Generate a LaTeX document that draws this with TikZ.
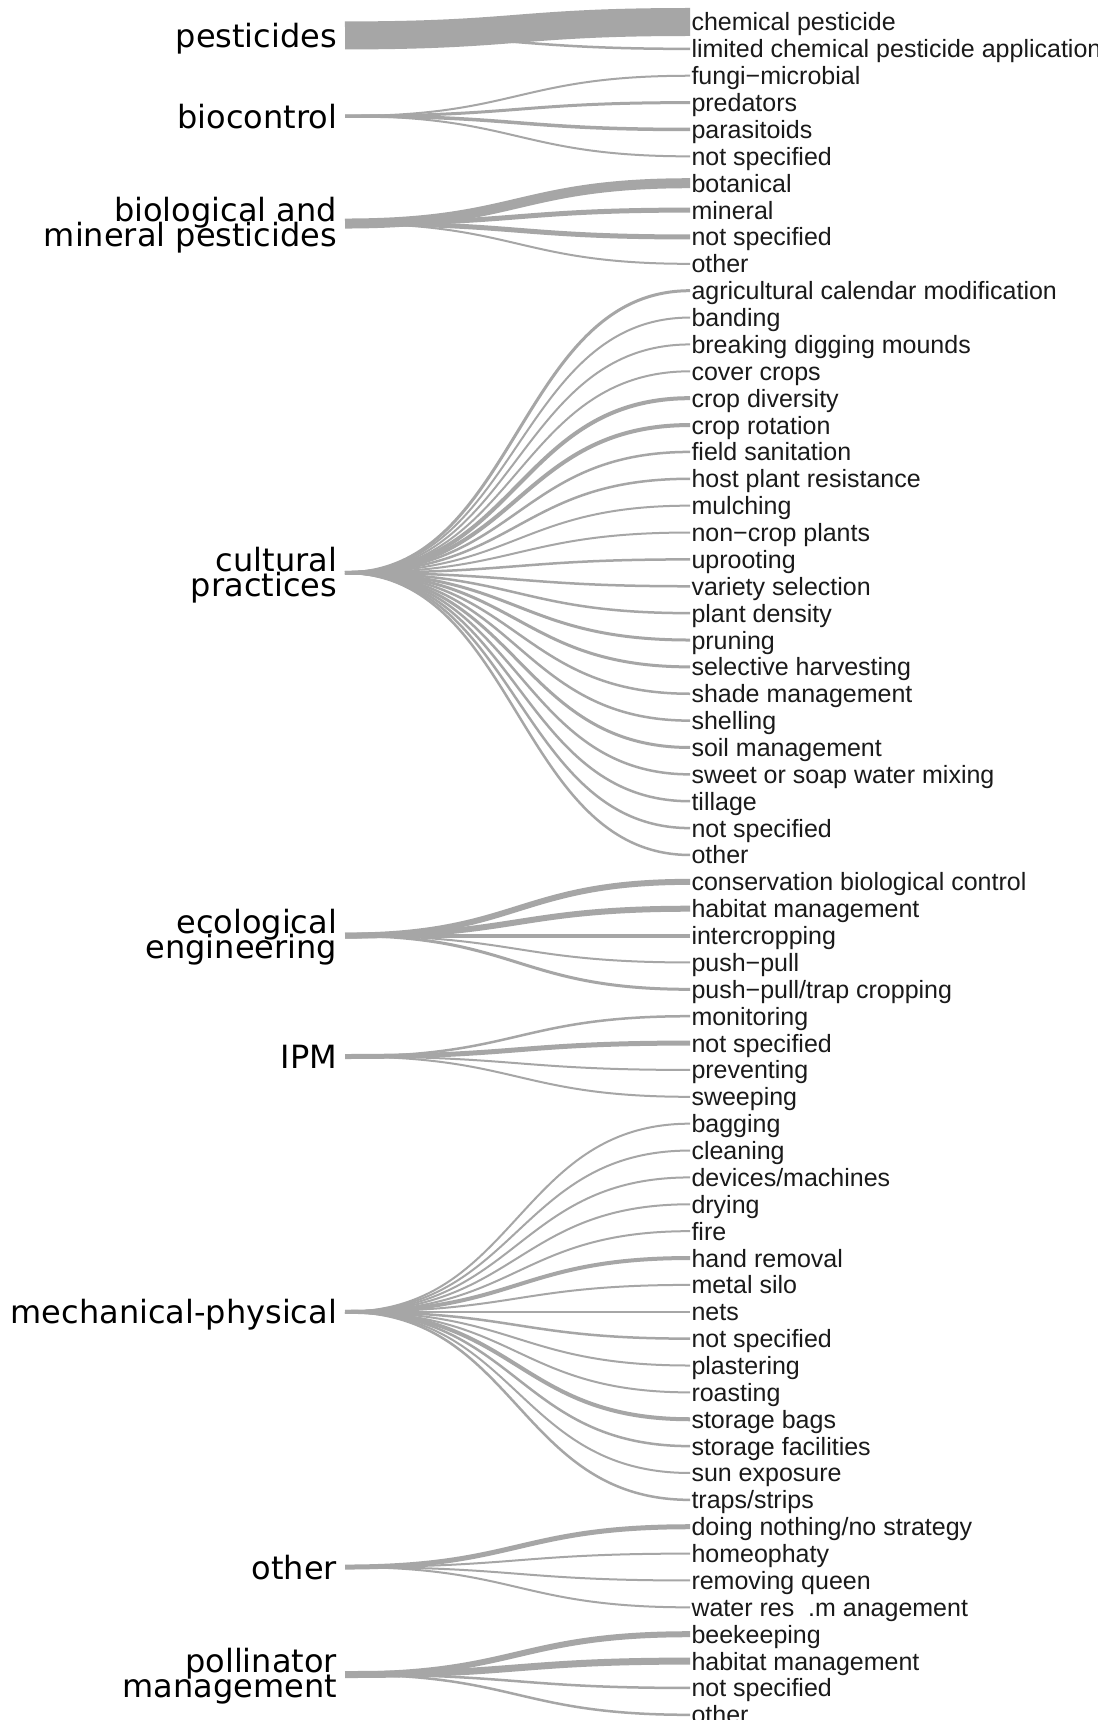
\documentclass[tikz,border=0pt]{standalone}
\usepackage{fontspec}
\setmainfont{Liberation Sans}
\newfontfamily\leftfont{DejaVu Sans}
\definecolor{linkgray}{RGB}{166,166,166}
\definecolor{txt}{RGB}{26,26,26}
\newcommand\tightlines{\lineskiplimit=-100pt\relax}
\tikzset{
  link/.style={draw=linkgray, line cap=butt},
  leaf/.style={anchor=west, inner xsep=1.5pt, inner ysep=0pt, outer sep=0pt,
    font=\fontsize{25}{26}\selectfont, text=txt, text height=18pt, text depth=0pt},
  grp/.style={anchor=east, inner sep=0pt, outer sep=0pt,
    font=\leftfont\fontsize{32}{32}\selectfont, text=black, text height=24pt, text depth=0pt},
  grptwo/.style={anchor=east, inner sep=0pt, outer sep=0pt, align=right, yshift=-2pt,
    font=\leftfont\fontsize{32}{25}\selectfont\tightlines, text=black},
}
\newcommand\rowy[1]{-(22+26.87*#1)}
\newcommand\leaf[2]{\node[leaf] (t#1) at (690,{\rowy{#1}}) {#2};}
\newcommand\lk[3]{\draw[link, line width=#3pt] (#1) .. controls (mx |- #1) and (mx |- t#2.west) .. (t#2.west);}
\newcommand\src[2]{\coordinate (#1) at (345,{\rowy{#2}});}
\begin{document}
\begin{tikzpicture}[x=1pt,y=1pt]
\useasboundingbox (0,0) rectangle (1097,-1720);
\fill[white] (0,0) rectangle (1097,-1720);
\clip (0,0) rectangle (1097,-1720);
\coordinate (mx) at (517.5,0);
% leaves
\leaf{0}{chemical pesticide}
\leaf{1}{limited chemical pesticide application}
\leaf{2}{fungi−microbial}
\leaf{3}{predators}
\leaf{4}{parasitoids}
\leaf{5}{not specified}
\leaf{6}{botanical}
\leaf{7}{mineral}
\leaf{8}{not specified}
\leaf{9}{other}
\leaf{10}{agricultural calendar modification}
\leaf{11}{banding}
\leaf{12}{breaking digging mounds}
\leaf{13}{cover crops}
\leaf{14}{crop diversity}
\leaf{15}{crop rotation}
\leaf{16}{field sanitation}
\leaf{17}{host plant resistance}
\leaf{18}{mulching}
\leaf{19}{non−crop plants}
\leaf{20}{uprooting}
\leaf{21}{variety selection}
\leaf{22}{plant density}
\leaf{23}{pruning}
\leaf{24}{selective harvesting}
\leaf{25}{shade management}
\leaf{26}{shelling}
\leaf{27}{soil management}
\leaf{28}{sweet or soap water mixing}
\leaf{29}{tillage}
\leaf{30}{not specified}
\leaf{31}{other}
\leaf{32}{conservation biological control}
\leaf{33}{habitat management}
\leaf{34}{intercropping}
\leaf{35}{push−pull}
\leaf{36}{push−pull/trap cropping}
\leaf{37}{monitoring}
\leaf{38}{not specified}
\leaf{39}{preventing}
\leaf{40}{sweeping}
\leaf{41}{bagging}
\leaf{42}{cleaning}
\leaf{43}{devices/machines}
\leaf{44}{drying}
\leaf{45}{fire}
\leaf{46}{hand removal}
\leaf{47}{metal silo}
\leaf{48}{nets}
\leaf{49}{not specified}
\leaf{50}{plastering}
\leaf{51}{roasting}
\leaf{52}{storage bags}
\leaf{53}{storage facilities}
\leaf{54}{sun exposure}
\leaf{55}{traps/strips}
\leaf{56}{doing nothing/no strategy}
\leaf{57}{homeophaty}
\leaf{58}{removing queen}
\leaf{59}{water res\ \ .m anagement}
\leaf{60}{beekeeping}
\leaf{61}{habitat management}
\leaf{62}{not specified}
\leaf{63}{other}
% sources
\src{pest}{0.5}
\src{bioc}{3.5}
\src{biom}{7.5}
\src{cult}{20.5}
\src{eco}{34}
\src{ipm}{38.5}
\src{mech}{48}
\src{oth}{57.5}
\src{poll}{61.5}
% group labels
\node[grp] (pestL) at (337,{\rowy{0.5}}) {pesticides};
\node[grp] (biocL) at (337,{\rowy{3.5}}) {biocontrol};
\node[grptwo] (biomL) at (337,{\rowy{7.5}}) {biological and\\mineral pesticides};
\node[grptwo] (cultL) at (337,{\rowy{20.5}}) {cultural\\practices};
\node[grptwo] (ecoL) at (337,{\rowy{34}}) {ecological\\engineering};
\node[grp] (ipmL) at (337,{\rowy{38.5}}) {IPM};
\node[grp] (mechL) at (337,{\rowy{48}}) {mechanical-physical};
\node[grp] (othL) at (337,{\rowy{57.5}}) {other};
\node[grptwo] (pollL) at (337,{\rowy{61.5}}) {pollinator\\management};
% links
\lk{pest}{0}{28}\lk{pest}{1}{2.5}
\lk{bioc}{2}{2}\lk{bioc}{3}{3}\lk{bioc}{4}{3.5}\lk{bioc}{5}{2}
\lk{biom}{6}{10}\lk{biom}{7}{5}\lk{biom}{8}{5}\lk{biom}{9}{2}
\lk{cult}{10}{3}\lk{cult}{11}{2}\lk{cult}{12}{2}\lk{cult}{13}{2}
\lk{cult}{14}{4}\lk{cult}{15}{4}\lk{cult}{16}{2.5}\lk{cult}{17}{2.5}
\lk{cult}{18}{2}\lk{cult}{19}{2}\lk{cult}{20}{2.5}\lk{cult}{21}{2.5}
\lk{cult}{22}{2.5}\lk{cult}{23}{3}\lk{cult}{24}{3}\lk{cult}{25}{2.5}
\lk{cult}{26}{2.5}\lk{cult}{27}{3}\lk{cult}{28}{2.5}\lk{cult}{29}{2.5}
\lk{cult}{30}{2.5}\lk{cult}{31}{2.5}
\lk{eco}{32}{6}\lk{eco}{33}{6}\lk{eco}{34}{4}\lk{eco}{35}{2}\lk{eco}{36}{3}
\lk{ipm}{37}{2.5}\lk{ipm}{38}{5}\lk{ipm}{39}{2}\lk{ipm}{40}{2}
\lk{mech}{41}{2}\lk{mech}{42}{2}\lk{mech}{43}{2}\lk{mech}{44}{2}
\lk{mech}{45}{2}\lk{mech}{46}{4}\lk{mech}{47}{2}\lk{mech}{48}{2}
\lk{mech}{49}{2.5}\lk{mech}{50}{2}\lk{mech}{51}{2}\lk{mech}{52}{4}
\lk{mech}{53}{2.5}\lk{mech}{54}{2}\lk{mech}{55}{2.5}
\lk{oth}{56}{5}\lk{oth}{57}{2}\lk{oth}{58}{2}\lk{oth}{59}{2}
\lk{poll}{60}{6}\lk{poll}{61}{7}\lk{poll}{62}{2.5}\lk{poll}{63}{2.5}
\end{tikzpicture}
\end{document}
